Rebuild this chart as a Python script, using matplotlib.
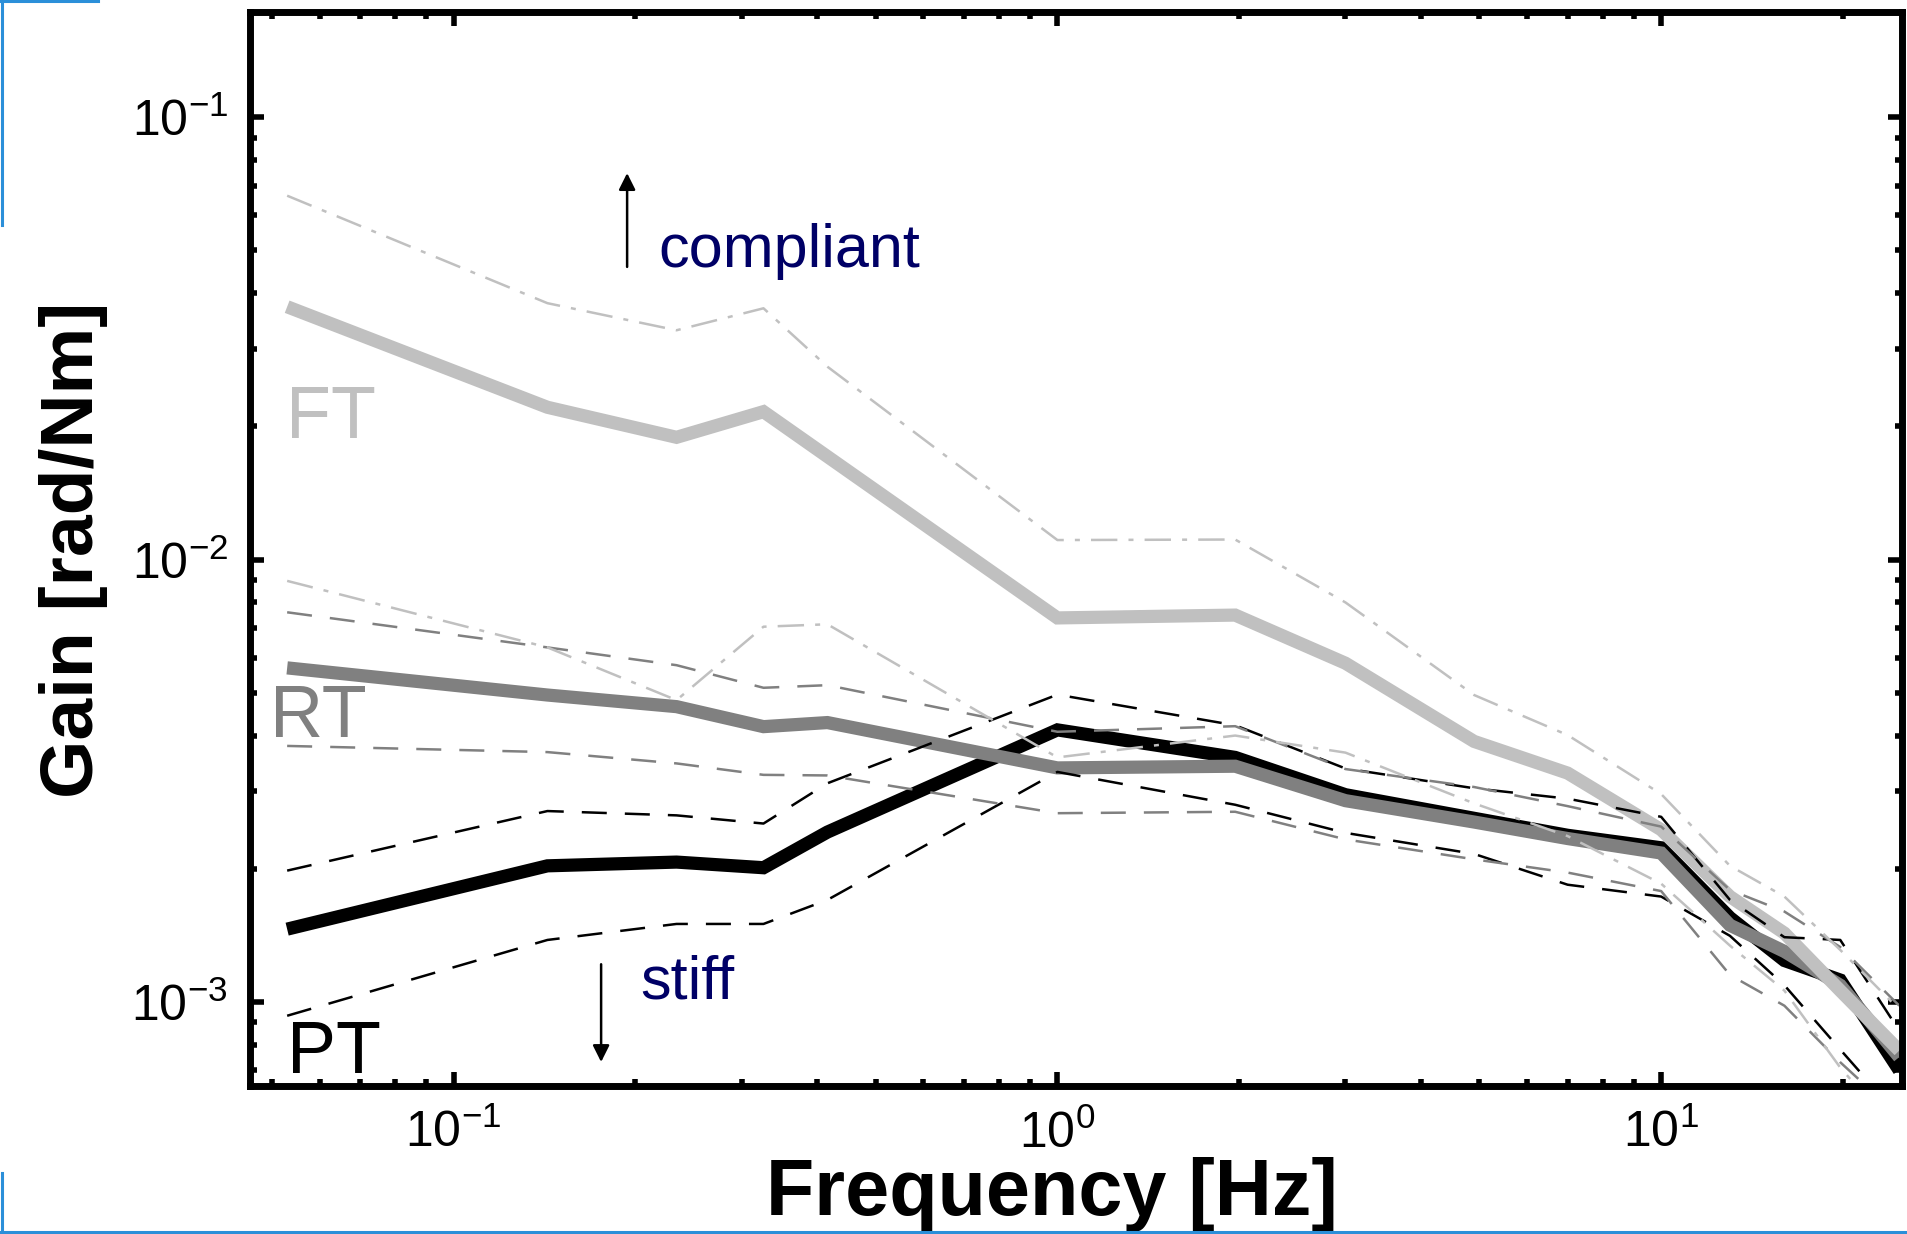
import matplotlib
matplotlib.use("Agg")
import matplotlib.pyplot as plt
from matplotlib.lines import Line2D

plt.rcParams['font.family'] = ['Liberation Sans', 'DejaVu Sans']
plt.rcParams['mathtext.default'] = 'regular'
plt.rcParams['lines.scale_dashes'] = False

# Frequency points of the perturbation (Hz)
freq = [0.053, 0.143, 0.234, 0.326, 0.416, 1.0, 1.97, 3.0, 4.9, 7.0,
        10.0, 13.0, 16.0, 19.8, 24.8]

# Mean gain and spread for each task (rad/Nm)
pt_mean = [0.00146, 0.00203, 0.00207, 0.00201, 0.00242, 0.00412, 0.00357, 0.00294,
           0.0026, 0.00238, 0.00223, 0.00155, 0.00124, 0.00112, 0.0007]
pt_upper = [0.00198, 0.0027, 0.00264, 0.00253, 0.00312, 0.00495, 0.00422, 0.00337,
            0.00304, 0.00288, 0.00262, 0.0017, 0.0014, 0.00138, 0.00086]
pt_lower = [0.00093, 0.00138, 0.0015, 0.0015, 0.0017, 0.00331, 0.00279, 0.00241,
            0.00216, 0.00184, 0.00173, 0.00141, 0.00109, 0.00078, 0.00055]

rt_mean = [0.00569, 0.00494, 0.00465, 0.00419, 0.00428, 0.00338, 0.00341, 0.00285,
           0.00255, 0.00234, 0.00217, 0.00149, 0.0013, 0.00109, 0.00075]
rt_upper = [0.0076, 0.00633, 0.00577, 0.00513, 0.0052, 0.00408, 0.0042, 0.00336,
            0.00306, 0.00277, 0.00249, 0.00179, 0.0016, 0.00133, 0.00098]
rt_lower = [0.00379, 0.00367, 0.00346, 0.00326, 0.00325, 0.00267, 0.00269, 0.00233,
            0.0021, 0.00196, 0.00178, 0.00115, 0.00098, 0.00073, 0.00055]

ft_mean = [0.0373, 0.0221, 0.0189, 0.0216, 0.0171, 0.00738, 0.00749, 0.00583,
           0.00388, 0.00329, 0.00245, 0.00173, 0.00143, 0.00106, 0.000776]
ft_upper = [0.0665, 0.038, 0.033, 0.037, 0.0273, 0.01107, 0.0111, 0.0080,
            0.00494, 0.00401, 0.00295, 0.00203, 0.00173, 0.00131, 0.00096]
ft_lower = [0.00895, 0.00633, 0.00481, 0.00705, 0.00714, 0.00357, 0.0040, 0.00366,
            0.00281, 0.00237, 0.00185, 0.00134, 0.00106, 0.00071, 0.0005]

PT_C, RT_C, FT_C = 'black', '#808080', '#c0c0c0'
NAVY = '#000066'
DASH = (0, (18, 13))
DASHDOT = (0, (19, 8, 3.6, 8))

fig = plt.figure(figsize=(19.07, 12.34), dpi=100)
ax = fig.add_axes([0.1311, 0.1199, 0.8663, 0.8706])

# thick mean curves
thick = dict(lw=9.5, solid_capstyle='butt', solid_joinstyle='miter')
ax.plot(freq, pt_mean, color=PT_C, **thick)
ax.plot(freq, rt_mean, color=RT_C, **thick)
ax.plot(freq, ft_mean, color=FT_C, **thick)

# thin bounds
thin = dict(lw=1.8, dash_capstyle='butt')
ax.plot(freq, pt_upper, color=PT_C, ls=DASH, **thin)
ax.plot(freq, pt_lower, color=PT_C, ls=DASH, **thin)
ax.plot(freq, rt_upper, color=RT_C, ls=DASH, **thin)
ax.plot(freq, rt_lower, color=RT_C, ls=DASH, **thin)
ax.plot(freq, ft_upper, color=FT_C, ls=DASHDOT, **thin)
ax.plot(freq, ft_lower, color=FT_C, ls=DASHDOT, **thin)

ax.set_xscale('log')
ax.set_yscale('log')
ax.set_xlim(0.046, 25.06)
ax.set_ylim(6.45e-4, 0.1733)

for s in ax.spines.values():
    s.set_linewidth(5)
ax.tick_params(which='both', direction='in', top=True, right=True, width=4,
               labelsize=36)
ax.tick_params(axis='x', which='both', pad=17)
ax.tick_params(axis='y', which='both', pad=16)
ax.tick_params(which='major', length=10)
ax.tick_params(which='minor', length=5)

ax.set_xlabel('Frequency [Hz]', fontsize=57, fontweight='bold')
ax.xaxis.set_label_coords(0.4855, -0.066)
ax.set_ylabel('Gain [rad/Nm]', fontsize=54, fontweight='bold')
ax.yaxis.set_label_coords(-0.086, 0.499)

# task labels
ax.text(0.0528, 0.01884, 'FT', color=FT_C, fontsize=53, va='baseline')
ax.text(0.0497, 0.00397, 'RT', color=RT_C, fontsize=53, va='baseline')
ax.text(0.0530, 0.00069, 'PT', color=PT_C, fontsize=53, va='baseline')

# direction hints
ax.text(0.2182, 0.0459, 'compliant', color=NAVY, fontsize=44, va='baseline')
ax.text(0.2037, 0.00102, 'stiff', color=NAVY, fontsize=44, va='baseline')
arrow = dict(arrowstyle='-|>', color='black', lw=1.8, mutation_scale=25,
             shrinkA=0, shrinkB=0)
ax.annotate('', xy=(0.1938, 0.0748), xytext=(0.1938, 0.0459), arrowprops=arrow)
ax.annotate('', xy=(0.1755, 0.000731), xytext=(0.1755, 0.001216), arrowprops=arrow)

# blue frame marks along the figure edges
blue = dict(color='#2b8fd9', lw=2.2, transform=fig.transFigure)
fig.add_artist(Line2D([0, 0.0514], [0.9992, 0.9992], **blue))
fig.add_artist(Line2D([0.0008, 0.0008], [1.0, 0.8177], **blue))
fig.add_artist(Line2D([0, 1], [0.0016, 0.0016], **blue))
fig.add_artist(Line2D([0.0008, 0.0008], [0.0494, 0.0], **blue))

fig.savefig('out.png', dpi=100)
